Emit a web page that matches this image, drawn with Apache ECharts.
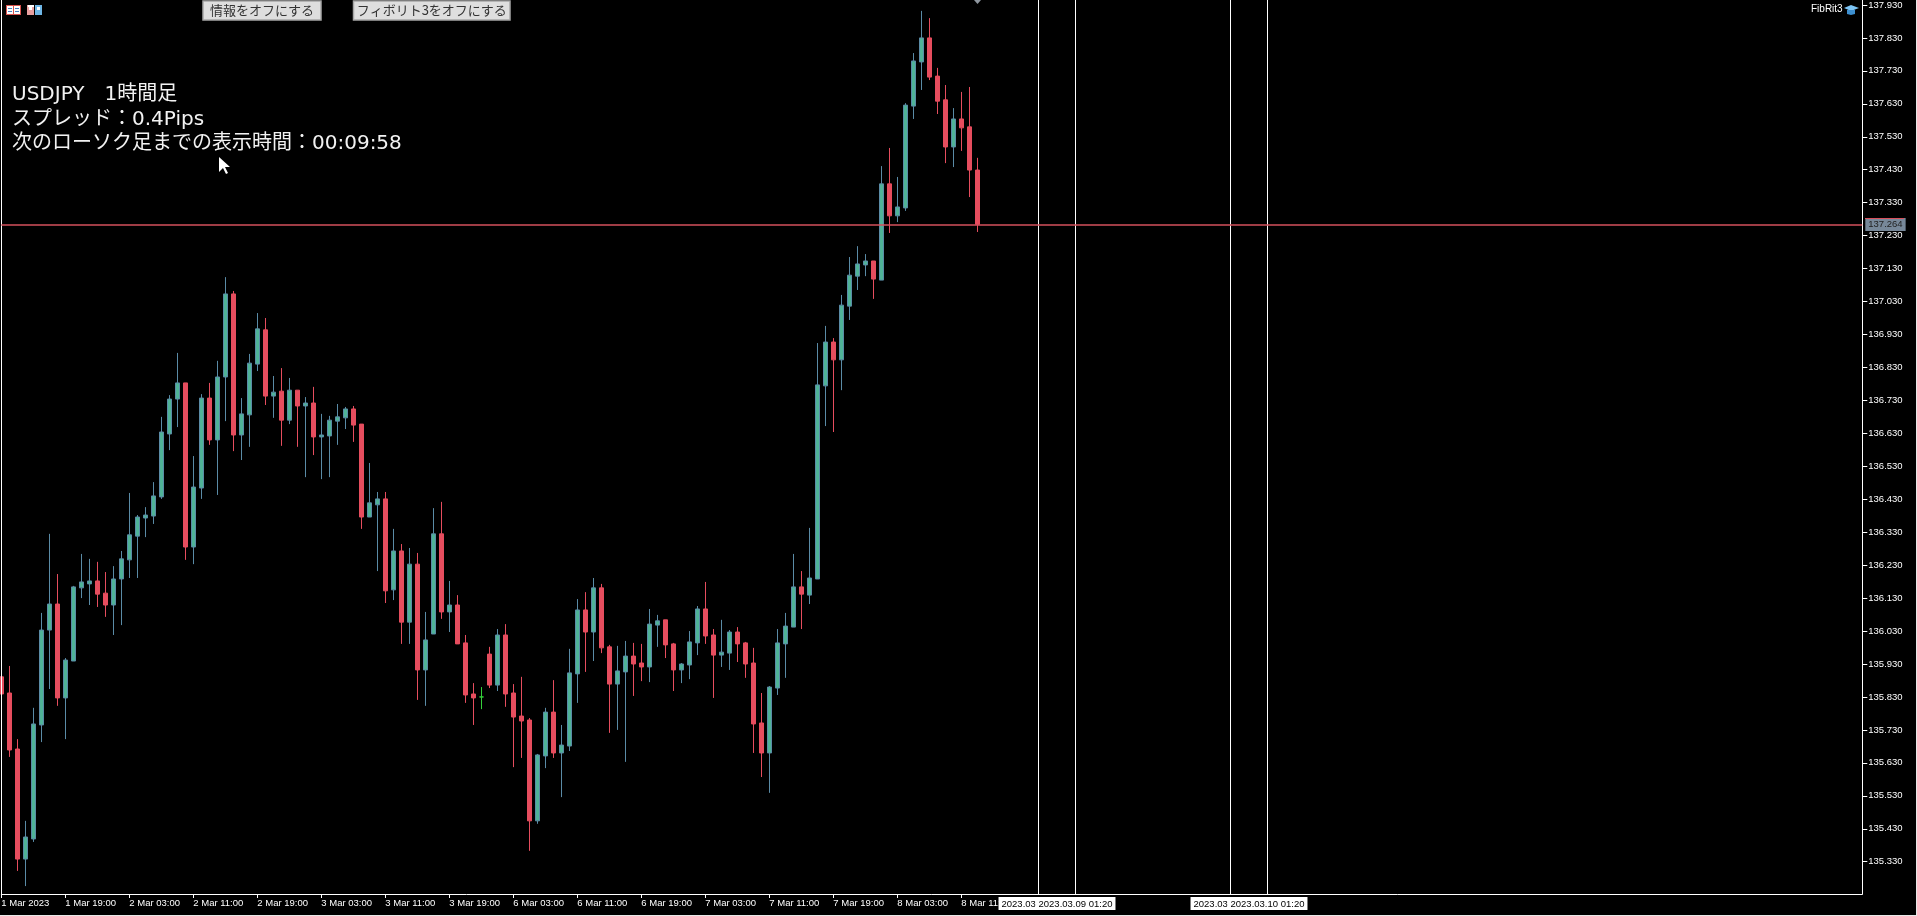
<!DOCTYPE html>
<html><head><meta charset="utf-8">
<style>html,body{margin:0;padding:0;background:#000;overflow:hidden}#c{width:1917px;height:916px}</style>
<script src="https://cdn.jsdelivr.net/npm/echarts@6/dist/echarts.min.js"></script>
</head><body><div id="c"></div>
<script>
const opens=[135.891,135.842,135.672,135.338,135.399,135.745,136.033,136.112,135.827,135.939,
136.161,136.173,136.182,136.145,136.109,136.188,136.246,136.318,136.373,136.379,
136.437,136.628,136.734,136.783,136.285,136.464,136.737,136.610,136.801,137.053,
136.625,136.686,136.840,136.944,136.743,136.758,136.670,136.761,136.713,136.722,
136.619,136.622,136.667,136.677,136.704,136.658,136.376,136.413,136.431,136.155,
136.273,136.057,136.233,135.912,136.021,136.325,136.088,136.109,135.994,135.839,
135.830,135.960,135.866,136.018,135.842,135.772,135.760,135.454,135.651,135.784,
135.660,135.681,135.900,136.094,136.027,136.161,135.982,135.869,135.906,135.954,
135.933,135.921,136.048,136.064,135.991,135.912,135.927,135.994,136.097,136.018,
135.957,135.963,136.027,135.994,135.933,135.751,135.660,135.857,135.991,136.042,
136.164,136.139,136.188,136.774,136.907,136.853,137.016,137.107,137.141,137.153,
137.095,137.387,137.290,137.314,137.623,137.757,137.830,137.714,137.642,137.499,
137.584,137.560,137.429];
const closes=[135.839,135.669,135.338,135.405,135.748,136.033,136.112,135.827,135.942,136.164,
136.179,136.182,136.142,136.109,136.188,136.249,136.322,136.376,136.382,136.440,
136.634,136.734,136.783,136.285,136.467,136.737,136.610,136.801,137.053,136.625,
136.689,136.843,136.947,136.743,136.755,136.670,136.761,136.713,136.722,136.619,
136.625,136.670,136.680,136.704,136.655,136.376,136.419,136.431,136.152,136.273,
136.057,136.233,135.912,136.003,136.325,136.088,136.109,135.991,135.836,135.827,
135.830,135.866,136.018,135.839,135.769,135.757,135.454,135.654,135.784,135.660,
135.684,135.903,136.094,136.027,136.161,135.979,135.869,135.909,135.954,135.930,
135.921,136.051,136.061,135.988,135.912,135.930,135.997,136.097,136.015,135.957,
135.966,136.027,135.991,135.930,135.748,135.660,135.860,135.994,136.045,136.164,
136.142,136.191,136.777,136.907,136.853,137.019,137.110,137.144,137.153,137.098,
137.387,137.290,137.317,137.626,137.760,137.830,137.711,137.638,137.499,137.584,
137.557,137.429,137.264];
const lows=[135.839,135.648,135.302,135.256,135.390,135.693,135.854,135.803,135.702,135.939,
136.130,136.109,136.103,136.073,136.018,136.048,136.191,136.191,136.315,136.355,
136.431,136.579,136.649,136.246,136.233,136.431,136.595,136.443,136.667,136.576,
136.549,136.589,136.819,136.716,136.677,136.592,136.658,136.589,136.497,136.564,
136.491,136.497,136.595,136.643,136.604,136.340,136.376,136.212,136.115,136.124,
135.991,135.991,135.821,135.803,136.021,136.067,136.027,135.991,135.812,135.745,
135.793,135.857,135.848,135.800,135.617,135.645,135.363,135.445,135.614,135.645,
135.526,135.666,135.812,135.906,135.939,135.963,135.721,135.730,135.633,135.833,
135.878,135.875,135.982,135.948,135.848,135.872,135.884,135.957,135.991,135.827,
135.921,135.912,135.936,135.888,135.660,135.587,135.539,135.836,135.888,136.042,
136.036,136.112,136.188,136.652,136.634,136.761,136.974,137.065,137.107,137.038,
137.095,137.238,137.271,137.305,137.584,137.672,137.702,137.599,137.450,137.438,
137.487,137.347,137.241];
const highs=[135.927,135.924,135.702,135.454,135.797,136.085,136.325,136.203,135.948,136.167,
136.264,136.249,136.240,136.209,136.227,136.273,136.449,136.382,136.406,136.482,
136.680,136.746,136.874,136.783,136.561,136.749,136.783,136.850,137.104,137.062,
136.737,136.871,136.995,136.980,136.804,136.828,136.798,136.761,136.740,136.771,
136.689,136.683,136.719,136.710,136.713,136.658,136.540,136.452,136.452,136.340,
136.294,136.282,136.267,136.088,136.403,136.422,136.182,136.139,136.018,135.872,
135.860,135.982,136.036,136.051,135.869,135.891,135.766,135.657,135.797,135.881,
135.745,135.976,136.127,136.148,136.191,136.173,135.988,135.985,136.000,135.994,
135.991,136.097,136.079,136.064,135.994,135.933,136.030,136.106,136.179,136.036,
136.064,136.033,136.042,135.997,135.979,135.842,135.863,136.036,136.085,136.264,
136.212,136.343,136.904,136.956,136.919,137.050,137.165,137.198,137.174,137.153,
137.441,137.496,137.408,137.632,137.784,137.912,137.890,137.739,137.687,137.617,
137.666,137.681,137.466];
const xTickBars=[0,8,16,24,32,40,48,56,64,72,80,88,96,104,112,120];
const xTickLabels=['1 Mar 2023','1 Mar 19:00','2 Mar 03:00','2 Mar 11:00','2 Mar 19:00','3 Mar 03:00','3 Mar 11:00','3 Mar 19:00','6 Mar 03:00','6 Mar 11:00','6 Mar 19:00','7 Mar 03:00','7 Mar 11:00','7 Mar 19:00','8 Mar 03:00','8 Mar 11:00'];
const yTicks=[135.33,135.43,135.53,135.63,135.73,135.83,135.93,136.03,136.13,136.23,136.33,136.43,136.53,136.63,136.73,136.83,136.93,137.03,137.13,137.23,137.33,137.43,137.53,137.63,137.73,137.83,137.93];
const currentPrice=137.264;
const dojiBar=60;
const vLineBars=[129.65,134.275,153.65,158.275];
const vLineLabels=['2023.03.09 00:50','2023.03.09 01:20','2023.03.10 00:50','2023.03.10 01:20'];
const infoLines=['USDJPY　1時間足','スプレッド：0.4Pips','次のローソク足までの表示時間：00:09:58'];
const buttons=['情報をオフにする','フィボリト3をオフにする'];
const indicatorName='FibRit3';

const UI='"Liberation Sans",sans-serif', JP='"Noto Sans CJK JP",sans-serif', MIX='"DejaVu Sans","Noto Sans CJK JP",sans-serif';
const UP='#4fb397',UPB='#5a8ba6',DN='#e64d5e',DOJI='#35d03a';
const candles=opens.map((o,i)=>{
  const v=[i,o,closes[i],lows[i],highs[i]];
  return i===dojiBar?{value:v,itemStyle:{color:DOJI,color0:DOJI,borderColor:DOJI,borderColor0:DOJI,borderColorDoji:DOJI}}:v;
});
const chart=echarts.init(document.getElementById('c'),null,{renderer:'canvas',width:1917,height:916});
const btn=(x,w,t)=>[
 {type:'rect',z:20,shape:{x:x,y:1,width:w,height:19},style:{fill:'#dedede',stroke:'#a6a6a6',lineWidth:1.5}},
 {type:'text',z:21,x:x+w/2,y:10.5,style:{text:t,font:'13px '+JP,fill:'#333',align:'center',verticalAlign:'middle'}}];
const ico=(x,y,w,h,f)=>({type:'rect',z:20,shape:{x,y,width:w,height:h},style:{fill:f}});
chart.setOption({
 animation:false,backgroundColor:'#000',
 grid:{left:1.3,right:54.7,top:0,bottom:22,outerBoundsMode:'none'},
 xAxis:{type:'value',min:0,max:232.625,splitLine:{show:false},
  axisLine:{show:true,onZero:false,lineStyle:{color:'#fff',width:1}},
  axisTick:{show:true,length:4,lineStyle:{color:'#fff'},customValues:xTickBars},
  axisLabel:{show:true,color:'#fff',fontFamily:UI,fontSize:9.5,align:'left',margin:4,customValues:xTickBars,
   formatter:v=>xTickLabels[xTickBars.indexOf(v)]||''}},
 yAxis:{type:'value',position:'right',min:135.232,max:137.945,splitLine:{show:false},scale:true,
  axisLine:{show:true,onZero:false,lineStyle:{color:'#fff',width:1}},
  axisTick:{show:true,length:5,lineStyle:{color:'#fff'},customValues:yTicks},
  axisLabel:{show:true,color:'#fff',fontFamily:UI,fontSize:9.5,margin:6,customValues:yTicks,formatter:v=>v.toFixed(3)}},
 series:[{type:'candlestick',barWidth:5,
  itemStyle:{color:UP,color0:DN,borderColor:UPB,borderColor0:DN,borderWidth:1},
  data:candles,
  markLine:{silent:true,symbol:'none',animation:false,precision:4,
   data:[
    {xAxis:0.025,lineStyle:{color:'#fff',width:1,type:'solid'},label:{show:false}},
    ...vLineBars.map((b,i)=>({xAxis:b,lineStyle:{color:'#fff',width:1,type:'solid'},
      label:{show:true,position:'start',formatter:vLineLabels[i],backgroundColor:'#fff',color:'#000',fontFamily:UI,fontSize:9.5,padding:[2,3,1,3],distance:3}})),
    {yAxis:currentPrice,lineStyle:{color:'#d4505c',width:1.5,type:'solid'},
      label:{show:true,position:'end',formatter:currentPrice.toFixed(3),backgroundColor:'#778899',color:'#222',fontFamily:UI,fontSize:9.5,padding:[2,3,1,3],distance:3}}
   ]}}],
 graphic:{elements:[
  ...btn(203,118,buttons[0]),...btn(353.5,156.5,buttons[1]),
  ...infoLines.map((t,i)=>({type:'text',z:20,x:12,y:94.5+i*24.8,style:{text:t,font:'20px '+MIX,fill:'#f2f2f2',verticalAlign:'middle'}})),
  // toolbar icons
  ico(6,5,15,10,'#d9534f'),ico(7,6,6,8,'#fff'),ico(14,6,6,8,'#fff'),ico(8,8,4,1,'#4a7fc0'),ico(8,11,4,1,'#4a7fc0'),ico(15,8,4,1,'#4a7fc0'),ico(15,11,4,1,'#4a7fc0'),
  ico(27,5,7,10,'#e9a0a0'),ico(35,5,7,10,'#6fb6e6'),ico(29,7,3,3,'#fff'),ico(37,7,3,3,'#fff'),ico(28,5,6,2,'#fff'),
  // mouse cursor
  {type:'polygon',z:22,shape:{points:[[219,157],[219,172],[223,168],[226,174],[228,173],[225,167],[230,167]]},style:{fill:'#fff'}},
  // chart-shift marker
  {type:'polygon',z:20,shape:{points:[[974,0],[981,0],[977.5,4]]},style:{fill:'#8f979f'}},
  // price tag top edge
  ico(1865,218,39,1,'#d9505c'),
  // indicator label
  {type:'text',z:20,x:1811,y:9.5,style:{text:indicatorName,font:'10px '+UI,fill:'#fff',verticalAlign:'middle'}},
  {type:'polygon',z:20,shape:{points:[[1844,8],[1851,5],[1859,8],[1851,11]]},style:{fill:'#7cc4f5'}},
  {type:'polygon',z:20,shape:{points:[[1847,10],[1855,10],[1855,14],[1851,15],[1847,14]]},style:{fill:'#3d8fd0'}},
  // window edge
  ico(0,915,1917,1,'#e8e8e8'),ico(1916,0,1,916,'#e8e8e8')
 ]}
});
</script></body></html>
